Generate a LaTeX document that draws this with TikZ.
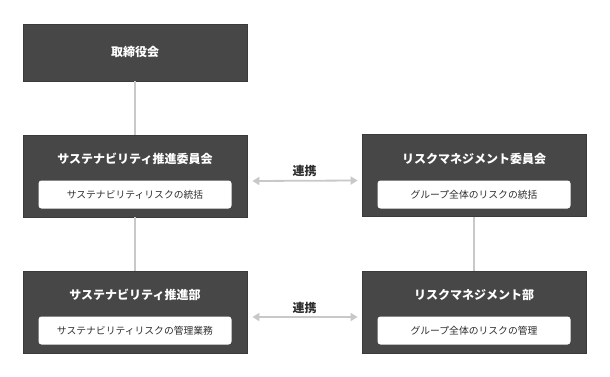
\documentclass[tikz,border=0pt]{standalone}
\usepackage{fontspec}
\setmainfont{Noto Sans CJK JP}
\usetikzlibrary{arrows.meta,calc}
\definecolor{boxfill}{HTML}{474747}
\definecolor{boxline}{HTML}{3A3A3A}
\definecolor{linkgrey}{HTML}{C8C8C8}
\definecolor{txtdark}{HTML}{2E2E2E}
\begin{document}
\begin{tikzpicture}[x=1pt,y=-1pt,
  darkbox/.style={draw=boxline,line width=0.8pt,fill=boxfill,minimum width=224pt,inner sep=0pt},
  titletext/.style={text=white,font=\bfseries\fontsize{12}{14}\selectfont,inner sep=0pt},
  innerbox/.style={draw=none,fill=white,rounded corners=3pt,minimum width=193pt,minimum height=28pt,inner sep=0pt,text=txtdark,font=\fontsize{9.8}{12}\selectfont},
  vline/.style={draw=linkgrey,line width=1.6pt},
  arr/.style={draw=linkgrey,line width=1.8pt,{Triangle[length=7pt,width=8pt]}-{Triangle[length=7pt,width=8pt]}},
  linklabel/.style={text=txtdark,font=\bfseries\fontsize{12}{14}\selectfont,inner sep=0pt}]
\useasboundingbox[fill=white] (0,0) rectangle (610,377);
% boxes
\node[darkbox,minimum height=57pt] (board) at (135,52.5) {};
\node[titletext] (boardt) at (135,52) {取締役会};
\node[darkbox,minimum height=82pt] (scomm) at (135,176) {};
\node[titletext] (scommt) at (135,159) {サステナビリティ推進委員会};
\node[innerbox] (scommi) at (135,194.5) {サステナビリティリスクの統括};
\node[darkbox,minimum height=82pt] (rcomm) at (474,175.5) {};
\node[titletext] (rcommt) at (474,159) {リスクマネジメント委員会};
\node[innerbox] (rcommi) at (474,194.5) {グループ全体のリスクの統括};
\node[darkbox,minimum height=82pt] (sdept) at (135,312) {};
\node[titletext] (sdeptt) at (135,295) {サステナビリティ推進部};
\node[innerbox] (sdepti) at (135,330.5) {サステナビリティリスクの管理業務};
\node[darkbox,minimum height=82pt] (rdept) at (474,312) {};
\node[titletext] (rdeptt) at (474,294.5) {リスクマネジメント部};
\node[innerbox] (rdepti) at (474,330.5) {グループ全体のリスクの管理};
% vertical connectors
\draw[vline] (board.south) -- (scomm.north);
\draw[vline] (scomm.south) -- (sdept.north);
\draw[vline] (rcomm.south) -- (rdept.north);
% arrows
\draw[arr] ([xshift=5pt,yshift=-5pt]scomm.east) -- ([xshift=-4pt,yshift=-5pt]rcomm.west);
\draw[arr] ([xshift=5pt,yshift=-5pt]sdept.east) -- ([xshift=-4pt,yshift=-5pt]rdept.west);
\node[linklabel] (l1) at ($(scomm.east)!0.5!(rcomm.west)+(0,-5)$) {連携};
\node[linklabel] (l2) at ($(sdept.east)!0.5!(rdept.west)+(0,-4)$) {連携};
\end{tikzpicture}
\end{document}
